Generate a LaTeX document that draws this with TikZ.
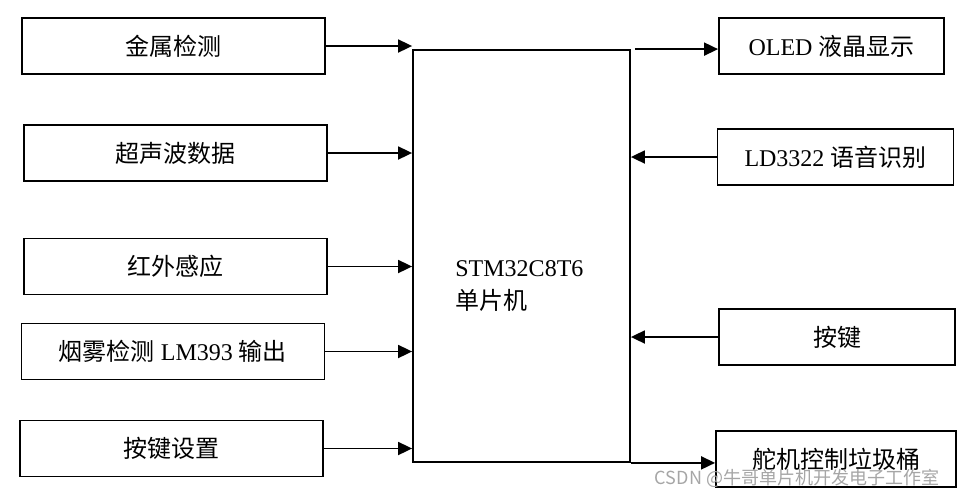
\documentclass[tikz,border=0pt]{standalone}
\usepackage{fontspec}
\setmainfont{Liberation Serif}
\newfontfamily\cjk{Noto Sans CJK SC}
\usepackage{tikz}
\usetikzlibrary{arrows.meta}

\begin{document}
\begin{tikzpicture}[
      x=0.5pt, y=-0.5pt,
      block/.style = {
        draw=black, line width=0.9pt, fill=white,
        minimum height=28pt, inner sep=0pt,
        font=\fontsize{12}{14}\selectfont
      },
      lbox/.style = {block, minimum width=151.5pt},
      rbox/.style = {block, minimum width=118pt},
      link/.style = {-{Triangle[length=7pt,width=6.5pt]}, line width=0.9pt}
    ]

    \useasboundingbox (0,0) rectangle (966,499);

    \node[lbox] (metal)  at (173.5, 46) {{\cjk 金属检测}};
    \node[lbox] (ultra)  at (175.5,153) {{\cjk 超声波数据}};
    \node[lbox] (infra)  at (175.5,266.5) {{\cjk 红外感应}};
    \node[lbox] (smoke)  at (173,351.5) {{\cjk 烟雾检测} LM393 {\cjk 输出}};
    \node[lbox] (keyset) at (171.5,448.5) {{\cjk 按键设置}};

    \node[block, minimum width=108.5pt, minimum height=206pt] (mcu) at (521.5,256) {};
    \node[anchor=west, align=left, inner sep=0pt, font=\fontsize{12}{16.5}\selectfont]
      (mcutext) at (455,286) {STM32C8T6\\{\cjk 单片机}};

    \node[rbox, minimum width=112.5pt] (oled) at (831.5, 46) {OLED {\cjk 液晶显示}};
    \node[rbox] (voice) at (835.5,157) {LD3322 {\cjk 语音识别}};
    \node[rbox] (key)   at (837,337)   {{\cjk 按键}};
    \node[rbox, minimum width=120pt] (servo) at (836,459) {{\cjk 舵机控制垃圾桶}};

    \draw[link] (metal.east)  -- (metal.east -| mcu.west);
    \draw[link] (ultra.east)  -- (ultra.east -| mcu.west);
    \draw[link] (infra.east)  -- (infra.east -| mcu.west);
    \draw[link] (smoke.east)  -- (smoke.east -| mcu.west);
    \draw[link] (keyset.east) -- (keyset.east -| mcu.west);

    \draw[link] ([xshift=2pt]mcu.north east) -- (mcu.north east -| oled.west);
    \draw[link] (voice.west) -- (voice.west -| mcu.east);
    \draw[link] (key.west)   -- (key.west -| mcu.east);
    \draw[link] (mcu.south east) -- (mcu.south east -| servo.west);

    \node[gray!70, font=\cjk\fontsize{9}{10}\selectfont] (mark) at (797,478)
      {CSDN @牛哥单片机开发电子工作室};

  \end{tikzpicture}
\end{document}
